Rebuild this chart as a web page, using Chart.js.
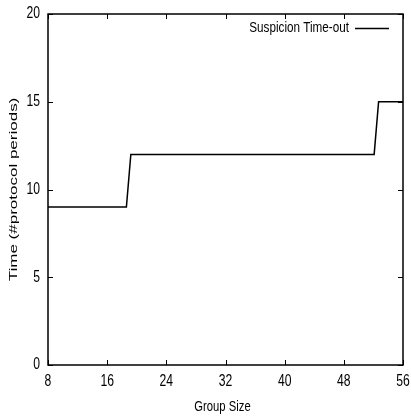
<!DOCTYPE html>
<html>
<head>
<meta charset="utf-8">
<script src="https://cdn.jsdelivr.net/npm/chart.js@4.4.0/dist/chart.umd.min.js"></script>
<style>
  html, body { margin: 0; padding: 0; background: #fff; }
  #wrap { width: 411px; height: 417px; }
</style>
</head>
<body>
<div id="wrap"><canvas id="c" width="411" height="417"></canvas></div>
<script>
// data
const groupSize = [8, 18.6, 19.2, 52.1, 52.7, 56];
const timeout = [9, 9, 12, 12, 15, 15];
const xTicks = [8, 16, 24, 32, 40, 48, 56];
const yTicks = [0, 5, 10, 15, 20];
const seriesName = 'Suspicion Time-out';
const xTitle = 'Group Size';
const yTitle = 'Time (#protocol periods)';

const FONT = '"Liberation Sans", Arial, sans-serif';
const SQUEEZE = 0.76; // the source figure is squashed horizontally

// text squashed in x like the original
function label(ctx, str, x, y, size, align, rotate, sx) {
  ctx.save();
  ctx.translate(x, y);
  if (rotate) {
    ctx.rotate(-Math.PI / 2);
    ctx.scale(1, sx);
  } else {
    ctx.scale(sx, 1);
  }
  ctx.font = size + 'px ' + FONT;
  ctx.fillStyle = '#000';
  ctx.textAlign = align;
  ctx.textBaseline = 'middle';
  ctx.fillText(str, 0, 0);
  ctx.restore();
}

// gnuplot-style frame with inward ticks, labels and legend
const frame = {
  id: 'frame',
  afterDatasetsDraw(chart) {
    const ctx = chart.ctx;
    const a = chart.chartArea;
    const xs = chart.scales.x, ys = chart.scales.y;
    ctx.save();
    ctx.strokeStyle = '#000';
    ctx.lineWidth = 1.5;
    ctx.strokeRect(a.left, a.top, a.right - a.left, a.bottom - a.top);
    ctx.lineWidth = 1;
    ctx.beginPath();
    xTicks.forEach(v => {
      const px = Math.round(xs.getPixelForValue(v)) + 0.5;
      ctx.moveTo(px, a.bottom); ctx.lineTo(px, a.bottom - 5);
      ctx.moveTo(px, a.top); ctx.lineTo(px, a.top + 5);
    });
    yTicks.forEach(v => {
      const py = Math.round(ys.getPixelForValue(v)) + 0.5;
      ctx.moveTo(a.left, py); ctx.lineTo(a.left + 5, py);
      ctx.moveTo(a.right, py); ctx.lineTo(a.right - 5, py);
    });
    ctx.stroke();

    // tick labels
    xTicks.forEach(v => label(ctx, String(v), xs.getPixelForValue(v), a.bottom + 17, 16, 'center', false, SQUEEZE));
    yTicks.forEach(v => label(ctx, String(v), a.left - 8, ys.getPixelForValue(v), 16, 'right', false, SQUEEZE));

    // axis titles
    label(ctx, xTitle, (a.left + a.right) / 2 - 3, a.bottom + 42, 15, 'center', false, 0.75);
    label(ctx, yTitle, 14, (a.top + a.bottom) / 2, 17, 'center', true, 0.66);

    // legend
    const ly = a.top + 14;
    label(ctx, seriesName, a.right - 54, ly, 15, 'right', false, 0.78);
    ctx.lineWidth = 1.5;
    ctx.beginPath();
    ctx.moveTo(a.right - 48, ly + 0.5);
    ctx.lineTo(a.right - 14, ly + 0.5);
    ctx.stroke();
    ctx.restore();
  }
};

new Chart(document.getElementById('c'), {
  type: 'scatter',
  data: {
    datasets: [{
      label: seriesName,
      data: groupSize.map((x, i) => ({ x: x, y: timeout[i] })),
      showLine: true,
      borderColor: '#000',
      borderWidth: 1.5,
      pointRadius: 0,
      tension: 0
    }]
  },
  options: {
    responsive: false,
    animation: false,
    layout: { padding: { top: 14, right: 8, left: 0, bottom: 0 } },
    plugins: { legend: { display: false }, tooltip: { enabled: false } },
    scales: {
      x: {
        type: 'linear', min: 8, max: 56,
        afterBuildTicks: s => { s.ticks = xTicks.map(v => ({ value: v })); },
        afterFit: s => { s.height = 52; s.paddingLeft = 0; s.paddingRight = 0; },
        grid: { display: false, drawTicks: false },
        border: { display: false },
        ticks: { display: false }
      },
      y: {
        min: 0, max: 20,
        afterBuildTicks: s => { s.ticks = yTicks.map(v => ({ value: v })); },
        afterFit: s => { s.width = 48; s.paddingTop = 0; s.paddingBottom = 0; },
        grid: { display: false, drawTicks: false },
        border: { display: false },
        ticks: { display: false }
      }
    }
  },
  plugins: [frame]
});
</script>
</body>
</html>
